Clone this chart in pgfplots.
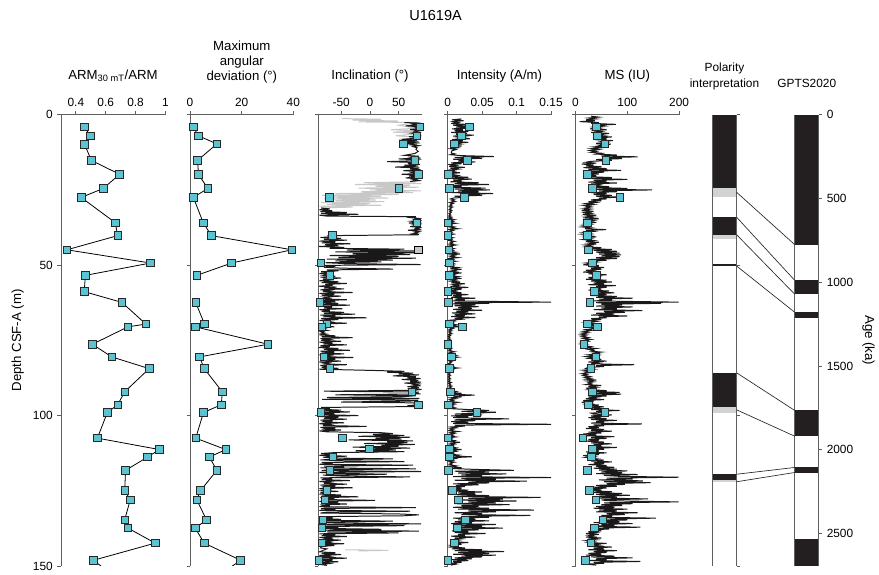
\documentclass[border=0pt]{standalone}
\usepackage{fontspec}
\setmainfont{Liberation Sans}
\usepackage{pgfplots}
\pgfplotsset{compat=1.18}
\definecolor{mk}{RGB}{91,196,210}
\definecolor{mkedge}{RGB}{40,40,40}
\definecolor{dat}{RGB}{26,24,25}
\definecolor{lgray}{RGB}{200,200,200}
\definecolor{pblack}{RGB}{35,31,32}
\definecolor{pgray}{RGB}{208,210,211}
\definecolor{axc}{RGB}{95,95,95}
\newcommand\hdr{\fontsize{10}{12}\selectfont}
\pgfplotsset{
 panel/.style={
   scale only axis, anchor=north west, height=341.5pt,
   y dir=reverse, ymin=0, ymax=150,
   axis x line*=top, axis y line*=left,
   tick align=outside, major tick length=2.6pt,
   axis line style={draw=axc, line width=0.6pt},
   every tick/.style={draw=axc, line width=0.6pt},
   ytick={0,50,100,150}, yticklabels={},
   tick label style={font=\fontsize{9}{10}\selectfont},
   /pgf/number format/assume math mode=true,
   unbounded coords=jump,
 },
 sq/.style={only marks, mark=square*, mark size=2.85pt, mark options={fill=mk, draw=mkedge, line width=0.6pt}},
 sqline/.style={mark=square*, mark size=2.85pt, mark options={fill=mk, draw=mkedge, line width=0.6pt, solid}, draw=black, line width=0.6pt},
 dline/.style={no marks, draw=dat, line width=0.75pt, sharp plot},
}
\begin{document}
\begin{tikzpicture}
\path (0,0) rectangle (659.25pt,-430.5pt);
\node[anchor=base, font=\fontsize{11}{13}\selectfont] at (329.6pt,-15.75pt) {U1619A};
\node[anchor=base, font=\hdr] at (85.5pt,-60pt) {ARM\textsubscript{30 mT}/ARM};
\node[anchor=base, font=\hdr] at (183pt,-38.25pt) {Maximum};
\node[anchor=base, font=\hdr] at (183pt,-49.5pt) {angular};
\node[anchor=base, font=\hdr] at (183pt,-60.75pt) {deviation (°)};
\node[anchor=base, font=\hdr] at (280pt,-60pt) {Inclination (°)};
\node[anchor=base, font=\hdr] at (378pt,-60pt) {Intensity (A/m)};
\node[anchor=base, font=\hdr] at (474.75pt,-60pt) {MS (IU)};
\node[anchor=base, font=\fontsize{9}{11}\selectfont] at (548.25pt,-54pt) {Polarity};
\node[anchor=base, font=\fontsize{9}{11}\selectfont] at (548.25pt,-66pt) {interpretation};
\node[anchor=base, font=\fontsize{9}{11}\selectfont] at (610.5pt,-66pt) {GPTS2020};

% ARM
\begin{axis}[panel, at={(46.1pt,-86.8pt)}, width=79.1pt, xmin=0.3, xmax=1,
  xtick={0.4,0.6,0.8,1}, xticklabels={0.4,0.6,0.8,1},
  yticklabels={0,50,100,150}, ylabel={Depth CSF-A (m)}, ylabel style={font=\hdr}]
\addplot[no marks, black, line width=0.6pt] coordinates {(0.518,148.1)(0.62,152)};
\addplot[sqline] coordinates {
(0.458,4.07)(0.496,7.0)(0.458,9.8)(0.504,15.2)(0.693,19.8)(0.584,24.5)(0.436,27.5)(0.664,35.9)
(0.680,40.2)(0.340,44.9)(0.900,49.3)(0.464,53.4)(0.456,58.8)(0.709,62.4)(0.869,69.6)(0.749,70.5)
(0.511,76.3)(0.640,80.5)(0.891,84.4)(0.727,92.1)(0.680,96.4)(0.611,99.0)(0.544,107.5)(0.960,111.3)
(0.880,113.8)(0.733,118.2)(0.727,124.9)(0.764,128.0)(0.727,134.7)(0.749,137.4)(0.931,142.4)(0.518,148.1)};
\end{axis}

% MAD
\begin{axis}[panel, at={(143.8pt,-86.8pt)}, width=78.2pt, xmin=0, xmax=40,
  xtick={0,20,40}, xticklabels={0,20,40}]
\addplot[no marks, black, line width=0.6pt] coordinates {(19.6,148.1)(13,152)};
\addplot[sqline] coordinates {
(1.3,4.07)(3.2,7.0)(10.4,9.7)(2.9,15.2)(3.3,19.9)(6.9,24.5)(1.3,27.5)(5.1,35.9)(8.3,40.2)
(39.4,44.9)(16.1,49.3)(2.6,53.4)(nan,58)(2.2,62.4)(5.6,69.6)(2.0,70.5)(30.2,76.3)(3.7,80.5)(5.5,84.4)
(12.5,92.1)(12.1,96.4)(5.2,99.0)(2.2,107.5)(13.8,111.3)(7.5,113.8)(10.4,118.2)(4.1,124.9)
(2.6,128.0)(6.4,134.7)(2.0,137.4)(5.5,142.4)(19.6,148.1)};
\end{axis}

% Inclination
\begin{axis}[panel, at={(240.8pt,-86.8pt)}, width=78.3pt, xmin=-90, xmax=90,
  xtick={-50,0,50}, xticklabels={-50,0,50}]
\addplot[dline, draw=lgray] coordinates {
(-49,1.3)(20,1.5)(-30,1.8)(49,2.1)(-20,2.4)(85,2.6)(50,3.5)(80,4.5)(37,5.0)(89,5.4)(40,5.8)(85,6.3)(45,7.0)(88,7.6)(50,8.2)(80,8.8)};
\addplot[dline, draw=lgray] coordinates {
(80,22.3)(-10,22.6)(89,22.9)(-26,23.2)(70,23.5)(10,23.8)(85,24.1)(-20,24.4)(60,24.7)(0,25.0)(89,25.3)(-15,25.6)(75,25.9)(-60,26.2)(50,26.5)(-83,26.8)(20,27.1)(-70,27.4)(32,27.7)(-80,28.0)(10,28.3)(-60,28.6)(25,28.9)(-85,29.2)(0,29.5)(-75,29.8)(20,30.1)(-88,30.4)(-30,30.7)(-85,31.0)};
\addplot[dline, draw=lgray] coordinates {(-43,144.6)(32,144.8)(-20,145.0)};
\addplot[dline] coordinates {
(60,2.6)(88,2.8)(75,3.1)(85,3.4)(62,3.7)(86,4.0)(80,4.3)(89,4.6)(70,4.9)(84,5.2)(78,5.5)(86,5.8)(72,6.1)(83,6.4)(79,6.7)(87,7.0)(68,7.3)(84,7.6)(76,7.9)(55,8.2)(82,8.5)(64,8.8)(86,9.1)(58,9.4)(80,9.7)(70,10.0)(85,10.3)(75,10.6)(82,11.0)
(80,11.5)(84,12.2)(78,12.9)
(60,13.5)(85,13.8)(72,14.1)(88,14.4)(50,14.7)(84,15.0)(76,15.3)(30,15.6)(82,15.9)(66,16.2)(87,16.5)(60,16.8)(84,17.1)(44,17.4)(86,17.7)(70,18.0)(88,18.3)(58,18.6)(84,18.9)(74,19.2)(89,19.5)(55,19.8)(85,20.1)(68,20.4)(87,20.7)(62,21.0)(83,21.3)(75,21.6)(86,21.9)(70,22.2)
(nan,26)
(-85,31.0)(-70,31.3)(-88,31.6)(-66,31.9)(-86,32.2)(-40,32.5)(-85,32.8)(-20,33.1)(-88,33.4)(-75,33.7)(80,33.9)(70,34.2)(86,34.5)(78,34.8)(89,35.1)(72,35.4)(85,35.7)(68,36.0)(88,36.3)(76,36.6)(84,36.9)(70,37.2)(89,37.5)(80,37.8)(86,38.1)(66,38.4)(88,38.7)(78,39.0)(84,39.3)(74,39.6)(85,39.9)(-74,40.2)(-60,40.5)(-86,40.8)(-50,41.1)(-80,41.4)(-40,41.7)(-88,42.0)(-60,42.3)(-84,42.6)(-34,42.9)(-78,43.2)(-55,43.5)(-89,43.8)(-45,44.1)(-70,44.4)(60,44.7)(-40,45.0)(85,45.3)(-60,45.6)(89,45.9)(-30,46.2)(70,46.5)(-70,46.8)(50,47.1)(-55,47.4)(80,47.7)(-75,48.0)(40,48.3)(-60,48.6)(20,48.9)(-77,49.2)(-40,49.5)(88,49.8)(-85,50.1)(-60,50.4)(-80,50.7)(-50,51.0)(40,51.3)(-75,51.6)(-55,51.9)(-85,52.2)(-65,52.5)(-88,52.8)(-70,53.1)
(-80,53.4)(-60,53.7)(-86,54.0)(-50,54.3)(-82,54.6)(-70,54.9)(-88,55.2)(-55,55.5)(-84,55.8)(-40,56.1)(-78,56.4)(-65,56.7)(-89,57.0)(-58,57.3)(-80,57.6)(-45,57.9)(-86,58.2)(-70,58.5)(-82,58.8)(-30,59.1)(-88,59.4)(-62,59.7)(-84,60.0)(-50,60.3)(-80,60.6)(-72,60.9)(-88,61.2)(-40,61.5)(-86,61.8)(-60,62.1)(-89,62.4)(-55,62.7)(-82,63.0)(-35,63.3)(-85,63.6)(-66,63.9)(-80,64.2)(-48,64.5)(-88,64.8)(-70,65.1)(-84,65.4)(-45,65.7)(-80,66.0)(-26,66.3)(-86,66.6)(-60,66.9)(-82,67.2)(-6,67.5)(-85,67.8)(-55,68.1)(-88,68.4)(-70,68.7)(-80,69.0)(-40,69.3)(-86,69.6)(-75,69.9)(-84,70.2)(-62,70.5)(-88,70.8)(-78,71.1)(-84,71.4)(-74,71.7)(-86,72.0)(-80,72.3)(-85,72.6)(-76,72.9)(-88,73.2)(-60,73.5)(-84,73.8)(-30,74.1)(-86,74.4)(-70,74.7)
(-85,75.0)(-50,75.3)(-88,75.6)(-65,75.9)(-82,76.2)(-40,76.5)(-86,76.8)(-70,77.1)(-89,77.4)(-55,77.7)(-80,78.0)(-35,78.3)(-86,78.6)(-62,78.9)(-84,79.2)(-45,79.5)(-88,79.8)(-70,80.1)(-82,80.4)(-29,80.7)(-86,81.0)(-60,81.3)(-84,81.6)(-50,81.9)(-88,82.2)(-72,82.5)(-80,82.8)(-40,83.1)(-86,83.4)(-66,83.7)(-84,84.0)(-55,84.3)(-88,84.6)
(5,85.0)(60,85.3)(30,85.6)(75,85.9)(50,86.2)(85,86.5)(40,86.8)(80,87.1)(65,87.4)(88,87.7)(55,88.0)(84,88.3)(70,88.6)(89,88.9)(60,89.2)(86,89.5)(76,89.8)(88,90.1)(65,90.4)(85,90.7)(72,91.0)(89,91.3)(78,91.6)(-80,91.9)(85,92.2)(70,92.5)(88,92.8)(-60,93.1)(80,93.4)(60,93.7)(-75,94.0)(86,94.3)(-83,94.6)(84,94.9)(70,95.2)(-50,95.5)(88,95.8)(80,96.1)(86,96.4)(65,96.7)(84,97.0)(-85,97.3)
(-70,97.6)(-88,97.9)(-50,98.2)(-82,98.5)(-35,98.8)(-86,99.1)(-62,99.4)(-84,99.7)(-20,100.0)(-88,100.3)(-55,100.6)(-80,100.9)(-40,101.2)(-86,101.5)(-65,101.8)(-84,102.1)(-45,102.4)(-88,102.7)(-70,103.0)(-82,103.3)(-6,103.6)(-86,103.9)(-60,104.2)(-84,104.5)(-50,104.8)(-88,105.1)(-75,105.4)
(20,105.7)(40,106.0)(5,106.3)(60,106.6)(-20,106.9)(70,107.2)(10,107.5)(55,107.8)(-37,108.1)(75,108.4)(30,108.7)(65,109.0)(-10,109.3)(78,109.6)(20,109.9)(50,110.2)(-30,110.5)(70,110.8)(0,111.1)(45,111.4)(-25,111.7)(60,112.0)(-60,112.3)
(-85,112.6)(-60,112.9)(-88,113.2)(-40,113.5)(-82,113.8)(-70,114.1)(40,114.4)(-86,114.7)(-55,115.0)(60,115.3)(-84,115.6)(-65,115.9)(-88,116.2)(75,116.5)(-80,116.8)(-45,117.1)(-86,117.4)(80,117.7)(-72,118.0)(-84,118.3)(89,118.6)(-88,118.9)(-60,119.2)(30,119.5)(-82,119.8)(-50,120.1)(70,120.4)(-86,120.7)(-66,121.0)(-84,121.3)(-35,121.6)(-88,121.9)(-70,122.2)(-80,122.5)(-40,122.8)(-86,123.1)(-60,123.4)(-84,123.7)(-30,124.0)(-88,124.3)(-72,124.6)(-82,124.9)(-55,125.2)(-86,125.5)
(-75,125.8)(-88,126.1)(-50,126.4)(-84,126.7)(-20,127.0)(-86,127.3)(-62,127.6)(-82,127.9)(9,128.2)(-88,128.5)(-55,128.8)(-84,129.1)(-40,129.4)(-86,129.7)(-70,130.0)(-88,130.3)(80,130.6)(-85,130.9)
(-60,131.2)(-88,131.5)(70,131.8)(-75,132.1)(-86,132.4)(50,132.7)(85,133.0)(60,133.3)(-82,133.6)(-65,133.9)(-88,134.2)(-50,134.5)(-84,134.8)(40,135.1)(-86,135.4)(-70,135.7)(89,136.0)(-80,136.3)(60,136.6)(-88,136.9)(-55,137.2)(-84,137.5)(20,137.8)(-86,138.1)(85,138.4)(-75,138.7)(50,139.0)(-88,139.3)(-60,139.6)
(-84,139.9)(-40,140.2)(-88,140.5)(-65,140.8)(-82,141.1)(-50,141.4)(-86,141.7)(-70,142.0)(-84,142.3)(-45,142.6)(-88,142.9)(-62,143.2)(-84,143.5)(-86,144.0)(-75,144.3)
(-88,145.3)(-60,145.6)(-84,145.9)(-50,146.2)(-88,146.5)(-70,146.8)(-82,147.1)(-40,147.4)(-86,147.7)(-65,148.0)(-88,148.3)(-55,148.6)(-84,148.9)(-70,149.2)(-86,149.5)(-75,149.8)};
\addplot[sq] coordinates {
(86.8,4.07)(81.6,7.0)(58.6,9.7)(78.2,15.2)(83.9,19.8)(50.6,24.5)(-70.1,27.5)(81.6,35.9)(-65.5,40.2)
(-85.6,49.3)(-69.5,53.4)(-87.4,62.4)(-74.7,69.6)(-83.9,70.5)(-79.9,80.5)(-69.5,84.4)(73.0,92.1)(83.9,96.4)
(-85.6,99.0)(-48.3,107.5)(-1.1,111.1)(-64.4,113.8)(-69.5,118.2)(-74.7,124.9)(-78.2,128.0)(-81.6,134.7)
(-83.9,137.4)(-83.9,142.4)(-89.1,148.1)};
\addplot[sq, mark options={fill=lgray}] coordinates {(83.9,44.9)};
\end{axis}

% Intensity
\begin{axis}[panel, at={(338.8pt,-86.8pt)}, width=78.2pt, xmin=0, xmax=0.15,
  xtick={0,0.05,0.1,0.15}, xticklabels={0,0.05,0.1,0.15}]
\addplot[dline] coordinates {
(0.02,1.4)(0.006,1.7)(0.023,2.0)(0.008,2.3)(0.015,2.6)(0.005,2.9)
(0.025,3.2)(0.008,3.5)(0.03,3.8)(0.012,4.1)(0.035,4.4)(0.006,4.7)(0.022,5.0)(0.01,5.3)(0.03,5.6)(0.005,5.9)(0.028,6.2)(0.012,6.5)(0.038,6.8)(0.008,7.1)(0.025,7.4)(0.015,7.7)(0.032,8.0)(0.006,8.3)(0.022,8.6)(0.01,8.9)(0.03,9.2)(0.008,9.5)(0.018,9.8)(0.005,10.1)(0.02,10.4)(0.008,10.7)(0.015,11.0)(0.004,11.3)(0.012,11.6)(0.006,12.0)
(0.005,12.7)(0.01,13.0)(0.004,13.3)
(0.02,13.6)(0.067,13.9)(0.01,14.2)(0.05,14.5)(0.008,14.8)(0.035,15.1)(0.015,15.4)(0.04,15.7)
(0.005,16.0)(0.02,16.3)(0.003,16.6)(0.012,16.9)(0.002,17.2)(0.025,17.5)(0.004,17.8)(0.015,18.1)(0.002,18.4)(0.01,18.7)(0.004,19.0)(0.018,19.3)(0.002,19.6)(0.008,19.9)(0.015,20.2)(0.003,20.5)(0.03,20.8)(0.005,21.1)(0.035,21.4)(0.008,21.7)(0.02,22.0)(0.004,22.3)(0.045,22.6)(0.01,22.9)(0.06,23.2)
(0.005,23.5)(0.02,23.8)(0.003,24.1)(0.055,24.4)(0.01,24.7)(0.061,25.0)(0.015,25.3)(0.045,25.6)(0.006,25.9)(0.066,26.2)(0.02,26.5)(0.05,26.8)(0.01,27.1)(0.03,27.4)(0.008,27.7)
(0.004,28.0)(0.01,28.3)(0.006,28.6)(0.011,28.9)(0.003,29.2)(0.008,29.5)(0.004,29.8)(0.006,30.1)(0.002,30.4)(0.007,30.7)(0.003,31.0)(0.005,31.3)(0.002,31.6)(0.006,31.9)(0.003,32.2)(0.005,32.5)(0.002,32.8)(0.004,33.1)(0.002,33.4)(0.005,33.7)(0.001,34.0)
(0.006,34.3)(0.002,34.6)(0.01,34.9)(0.003,35.2)(0.008,35.5)(0.001,35.8)(0.012,36.1)(0.003,36.4)(0.006,36.7)(0.002,37.0)(0.01,37.3)(0.004,37.6)(0.015,37.9)(0.002,38.2)(0.008,38.5)(0.003,38.8)(0.006,39.1)(0.002,39.4)(0.009,39.7)(0.003,40.0)(0.005,40.3)(0.001,40.6)(0.008,40.9)(0.003,41.2)(0.006,41.5)(0.002,41.8)(0.01,42.1)(0.004,42.4)(0.007,42.7)(0.002,43.0)(0.012,43.3)(0.003,43.6)(0.006,43.9)(0.001,44.2)(0.009,44.5)(0.003,44.8)(0.008,45.1)(0.002,45.4)(0.012,45.7)(0.004,46.0)(0.018,46.3)(0.003,46.6)(0.01,46.9)(0.004,47.2)(0.015,47.5)(0.002,47.8)(0.008,48.1)(0.003,48.4)(0.012,48.7)(0.002,49.0)(0.006,49.3)(0.01,49.6)(0.003,49.9)(0.008,50.2)(0.002,50.5)(0.015,50.8)(0.004,51.1)(0.02,51.4)(0.006,51.7)(0.012,52.0)(0.003,52.3)(0.02,52.6)(0.005,52.9)(0.01,53.2)(0.003,53.5)(0.015,53.8)(0.004,54.1)(0.02,54.4)(0.006,54.7)(0.012,55.0)(0.003,55.3)(0.018,55.6)(0.005,55.9)(0.025,56.2)(0.008,56.5)(0.015,56.8)(0.004,57.1)(0.03,57.4)(0.006,57.7)(0.02,58.0)(0.003,58.3)(0.012,58.6)(0.005,58.9)(0.02,59.2)(0.004,59.5)(0.03,59.8)(0.008,60.1)(0.02,60.4)(0.005,60.7)(0.04,61.0)(0.01,61.3)(0.025,61.6)(0.006,61.9)
(0.15,62.3)(0.01,62.5)(0.06,62.7)(0.008,62.9)
(0.04,63.2)(0.01,63.5)(0.045,63.8)(0.015,64.1)(0.035,64.4)(0.008,64.7)(0.05,65.0)(0.012,65.3)(0.03,65.6)(0.006,65.9)(0.04,66.2)(0.01,66.5)(0.025,66.8)(0.005,67.1)(0.04,67.4)(0.01,67.7)(0.02,68.0)(0.004,68.3)
(0.01,68.6)(0.003,68.9)(0.008,69.2)(0.002,69.5)(0.012,69.8)(0.004,70.1)(0.02,70.4)(0.003,70.7)(0.008,71.0)(0.002,71.3)(0.006,71.6)(0.001,71.9)(0.005,72.2)(0.002,72.5)(0.006,72.8)(0.001,73.1)(0.004,73.4)(0.001,73.7)(0.003,74.0)(0.001,74.3)(0.004,74.6)(0.001,74.9)(0.003,75.2)(0.001,75.5)(0.002,75.8)(0.001,76.1)(0.003,76.4)(0.001,76.7)(0.004,77.0)(0.002,77.3)(0.006,77.6)(0.002,77.9)(0.005,78.2)(0.001,78.5)(0.01,78.8)(0.003,79.1)(0.007,79.4)(0.002,79.7)(0.012,80.0)(0.004,80.3)(0.015,80.6)(0.005,80.9)(0.01,81.2)(0.002,81.5)(0.008,81.8)(0.003,82.1)(0.005,82.4)(0.001,82.7)(0.004,83.0)(0.002,83.3)(0.008,83.6)(0.003,83.9)(0.015,84.2)(0.004,84.5)(0.008,84.8)(0.002,85.1)(0.005,85.4)(0.001,85.7)(0.003,86.0)(0.001,86.3)(0.004,86.6)(0.001,86.9)(0.003,87.2)(0.001,87.5)(0.004,87.8)(0.001,88.1)(0.003,88.4)(0.001,88.7)(0.005,89.0)(0.001,89.3)(0.004,89.6)(0.002,89.9)(0.006,90.2)(0.002,90.5)(0.005,90.8)(0.002,91.1)(0.008,91.4)(0.003,91.7)(0.012,92.0)(0.004,92.3)(0.02,92.6)(0.005,92.9)(0.039,93.2)(0.008,93.5)(0.02,93.8)(0.004,94.1)(0.012,94.4)(0.003,94.7)(0.008,95.0)(0.002,95.3)(0.015,95.6)(0.003,95.9)(0.01,96.2)(0.002,96.5)(0.008,96.8)(0.003,97.1)
(0.01,97.4)(0.004,97.7)(0.03,98.0)(0.06,98.3)(0.02,98.6)(0.07,98.9)(0.04,99.2)(0.01,99.5)(0.05,99.8)(0.005,100.1)(0.03,100.4)(0.008,100.7)(0.089,101.1)(0.01,101.4)(0.04,101.7)(0.005,102.0)(0.03,102.3)(0.008,102.6)(0.15,102.9)(0.01,103.2)(0.025,103.5)(0.004,103.8)
(0.012,104.1)(0.003,104.4)(0.008,104.7)(0.002,105.0)(0.015,105.3)(0.004,105.6)(0.01,105.9)(0.002,106.2)(0.008,106.5)(0.003,106.8)(0.012,107.1)(0.002,107.4)(0.006,107.7)(0.002,108.0)(0.01,108.3)(0.003,108.6)(0.018,108.9)(0.004,109.2)(0.01,109.5)(0.002,109.8)(0.008,110.1)(0.003,110.4)(0.012,110.7)(0.004,111.0)(0.02,111.3)(0.005,111.6)(0.012,111.9)(0.003,112.2)(0.008,112.5)(0.002,112.8)(0.015,113.1)(0.004,113.4)(0.035,113.7)(0.006,114.0)(0.012,114.3)(0.003,114.6)(0.008,114.9)(0.002,115.2)(0.01,115.5)(0.003,115.8)(0.006,116.1)(0.002,116.4)(0.012,116.7)(0.004,117.0)(0.02,117.3)(0.005,117.6)
(0.04,117.9)(0.096,118.2)(0.01,118.5)(0.06,118.8)(0.015,119.1)(0.085,119.4)(0.02,119.7)(0.05,120.0)(0.008,120.3)(0.15,120.6)(0.02,120.9)(0.07,121.2)(0.01,121.5)(0.115,121.8)(0.03,122.1)(0.06,122.4)(0.008,122.7)(0.045,123.0)(0.012,123.3)(0.025,123.6)(0.005,123.9)(0.02,124.2)
(0.006,124.5)(0.03,124.8)(0.008,125.1)(0.05,125.4)(0.015,125.7)(0.04,126.0)(0.01,126.3)(0.06,126.6)(0.02,126.9)(0.135,127.2)(0.03,127.5)(0.08,127.8)(0.015,128.1)(0.1,128.4)(0.03,128.7)(0.07,129.0)(0.01,129.3)(0.09,129.6)(0.02,129.9)(0.045,130.2)(0.008,130.5)(0.06,130.8)(0.015,131.1)(0.125,131.4)(0.03,131.7)(0.07,132.0)(0.01,132.3)(0.05,132.6)(0.02,132.9)(0.12,133.2)(0.03,133.5)(0.06,133.8)(0.008,134.1)(0.04,134.4)(0.015,134.7)(0.06,135.0)(0.01,135.3)(0.035,135.6)(0.005,135.9)(0.07,136.2)(0.02,136.5)(0.05,136.8)(0.01,137.1)(0.08,137.4)(0.02,137.7)(0.045,138.0)(0.006,138.3)(0.03,138.6)(0.01,138.9)(0.055,139.2)(0.015,139.5)(0.025,139.8)(0.005,140.1)(0.04,140.4)(0.01,140.7)(0.02,141.0)(0.004,141.3)(0.015,141.6)(0.005,141.9)(0.03,142.2)(0.008,142.5)(0.02,142.8)(0.004,143.1)(0.012,143.4)(0.003,143.7)(0.025,144.0)(0.006,144.3)(0.05,144.6)(0.01,144.9)(0.082,145.2)(0.015,145.5)(0.06,145.8)(0.008,146.1)(0.07,146.4)(0.02,146.7)(0.05,147.0)(0.01,147.3)(0.035,147.6)(0.005,147.9)(0.03,148.2)(0.008,148.5)(0.02,148.8)(0.004,149.1)(0.012,149.4)(0.005,149.7)};
\addplot[sq] coordinates {
(0.0316,4.07)(0.0201,7.0)(0.0096,9.7)(0.0288,15.2)(0.001,19.9)(0.0024,24.5)(0.0244,27.5)(0.0,35.9)
(0.0,40.2)(0.0014,44.9)(0.0024,49.3)(0.0024,53.4)(0.0,58.8)(0.001,62.4)(0.0024,69.6)(0.0216,70.5)
(0.0,76.3)(0.0053,80.5)(0.0024,84.4)(0.0038,92.1)(0.001,96.4)(0.0422,99.0)(0.0,107.5)(0.0024,111.1)
(0.0024,113.8)(0.001,118.2)(0.0067,124.9)(0.0153,128.0)(0.0259,134.7)(0.0139,137.4)(0.0096,142.4)(0.0,148.1)};
\end{axis}

% MS
\begin{axis}[panel, at={(435.5pt,-86.8pt)}, width=78.45pt, xmin=0, xmax=200,
  xtick={0,100,200}, xticklabels={0,100,200}]
\addplot[dline] coordinates {
(30,0.5)(45,0.8)(25,1.1)(40,1.4)(20,1.7)(38,2.0)(8,2.3)(45,2.6)(30,2.9)(78,3.2)(40,3.5)(55,3.8)(35,4.1)(48,4.4)(28,4.7)(60,5.0)(38,5.3)(50,5.6)(30,5.9)(65,6.2)(42,6.5)(55,6.8)(35,7.1)(70,7.4)(45,7.7)(60,8.0)(38,8.3)(72,8.6)(50,8.9)(60,9.2)(40,9.5)(68,9.8)(45,10.1)(55,10.4)(35,10.7)(50,11.0)(30,11.3)(45,11.6)(28,11.9)(40,12.2)
(30,12.5)(50,12.8)(40,13.1)(80,13.4)(50,13.7)(120,14.0)(55,14.3)(90,14.6)(40,14.9)(70,15.2)(30,15.5)
(20,15.8)(40,16.1)(12,16.4)(35,16.7)(20,17.0)(50,17.3)(15,17.6)(60,17.9)(25,18.2)(88,18.5)(30,18.8)(55,19.1)(20,19.4)(45,19.7)(15,20.0)(40,20.3)(25,20.6)(70,20.9)(30,21.2)(100,21.5)(35,21.8)(60,22.1)(25,22.4)(80,22.7)(30,23.0)
(45,23.3)(25,23.6)(65,23.9)(35,24.2)(100,24.5)(40,24.8)(148,25.0)(45,25.3)(80,25.6)(30,25.9)(60,26.2)(35,26.5)(70,26.8)(40,27.1)(85,27.4)(45,27.7)(60,28.0)(30,28.3)(50,28.6)(25,28.9)(40,29.2)(20,29.5)(35,29.8)(15,30.1)(30,30.4)(20,30.7)
(30,31.0)(15,31.3)(28,31.6)(12,31.9)(35,32.2)(18,32.5)(30,32.8)(14,33.1)(40,33.4)(20,33.7)(35,34.0)(15,34.3)(45,34.6)(22,34.9)(35,35.2)(18,35.5)(40,35.8)(20,36.1)(30,36.4)(14,36.7)(25,37.0)(12,37.3)(30,37.6)(18,37.9)(59,38.2)(20,38.5)(35,38.8)(15,39.1)(28,39.4)(12,39.7)(30,40.0)(18,40.3)(40,40.6)(20,40.9)(30,41.2)(15,41.5)(35,41.8)(20,42.1)(45,42.4)(25,42.7)(40,43.0)(18,43.3)(30,43.6)(20,43.9)(50,44.2)(25,44.5)(70,44.8)(35,45.1)(80,45.4)(40,45.7)(85,46.0)(45,46.3)
(88,46.6)(50,46.9)(85,47.2)(40,47.5)(80,47.8)(30,48.1)(60,48.4)(25,48.7)(40,49.0)
(20,49.3)(35,49.6)(15,49.9)(45,50.2)(25,50.5)(55,50.8)(30,51.1)(50,51.4)(20,51.7)(40,52.0)(15,52.3)(45,52.6)(25,52.9)(60,53.2)(35,53.5)(50,53.8)(25,54.1)(45,54.4)(20,54.7)(60,55.0)(30,55.3)(70,55.6)(35,55.9)(55,56.2)(25,56.5)(78,56.8)(40,57.1)(60,57.4)(30,57.7)(50,58.0)(25,58.3)(65,58.6)(35,58.9)(75,59.2)(40,59.5)(60,59.8)(30,60.1)(80,60.4)(40,60.7)(110,61.0)(45,61.3)(70,61.6)(35,61.9)
(199,62.3)(40,62.5)(165,62.7)(50,63.0)
(90,63.3)(40,63.6)(110,63.9)(50,64.2)(80,64.5)(35,64.8)(129,65.1)(55,65.4)(95,65.7)(40,66.0)(75,66.3)(30,66.6)(100,66.9)(45,67.2)(60,67.5)(30,67.8)(50,68.1)
(25,68.4)(40,68.7)(20,69.0)(35,69.3)(15,69.6)(45,69.9)(25,70.2)(50,70.5)(30,70.8)(40,71.1)(20,71.4)(30,71.7)(15,72.0)(25,72.3)(12,72.6)(22,72.9)(10,73.2)(20,73.5)(12,73.8)(25,74.1)(15,74.4)(30,74.7)(18,75.0)(25,75.3)(12,75.6)(20,75.9)(10,76.2)(22,76.5)(15,76.8)(30,77.1)(20,77.4)(40,77.7)(25,78.0)(35,78.3)(30,78.6)(50,78.9)(35,79.2)(45,79.5)(25,79.8)(40,80.1)(20,80.4)(35,80.7)(25,81.0)(50,81.3)(30,81.6)(60,81.9)(25,82.2)(45,82.5)(30,82.8)(113,83.1)(40,83.4)(55,83.7)(25,84.0)
(20,84.3)(35,84.6)(15,84.9)(30,85.2)(18,85.5)(25,85.8)(12,86.1)(22,86.4)(15,86.7)(28,87.0)(18,87.3)(30,87.6)(20,87.9)(40,88.2)(22,88.5)(35,88.8)(25,89.1)(30,89.4)(20,89.7)(50,90.0)(25,90.3)(40,90.6)(20,90.9)(35,91.1)(25,91.4)(60,91.7)(30,92.0)(85,92.3)(40,92.6)(88,92.9)(35,93.2)(60,93.5)(25,93.8)(40,94.1)(20,94.4)(55,94.7)(15,95.0)(35,95.3)(12,95.6)(30,95.9)(20,96.2)(45,96.5)(25,96.8)(55,97.1)(30,97.4)(50,97.7)(30,98.0)(85,98.3)(40,98.6)(60,98.9)(30,99.2)
(35,99.5)(70,99.8)(30,100.1)(50,100.4)(25,100.7)(60,101.0)(30,101.3)(80,101.6)(40,101.9)(55,102.2)(30,102.5)(128,102.8)(35,103.1)(55,103.4)
(25,103.7)(45,104.0)(20,104.3)(55,104.6)(30,104.9)(70,105.2)(25,105.5)(50,105.8)(15,106.1)(40,106.4)(20,106.7)(75,107.0)(30,107.3)(60,107.6)(25,107.9)(45,108.2)(20,108.5)(55,108.8)(30,109.1)(70,109.4)(35,109.7)(50,110.0)(25,110.3)(80,110.6)(35,110.9)(55,111.2)(25,111.5)(45,111.8)(20,112.1)(60,112.4)(30,112.7)(45,113.0)(15,113.3)(35,113.6)(20,113.9)(40,114.2)(25,114.5)(55,114.8)(30,115.1)(70,115.4)(35,115.7)(55,116.0)(25,116.3)(60,116.6)(40,116.9)(75,117.2)(35,117.5)
(80,117.8)(45,118.1)(100,118.4)(50,118.7)(90,119.0)(40,119.3)(120,119.6)(55,119.9)(85,120.2)(199,120.5)(60,120.8)(110,121.1)(45,121.4)(130,121.7)(55,122.0)(145,122.3)(60,122.6)(95,122.9)(40,123.2)(80,123.5)(35,123.8)(60,124.1)
(25,124.4)(50,124.7)(30,125.0)(70,125.3)(35,125.6)(90,125.9)(40,126.2)(105,126.5)(45,126.8)(80,127.1)(40,127.4)(140,127.7)(50,128.0)(60,128.3)(199,128.7)(55,129.0)(110,129.3)(50,129.6)(90,129.9)(40,130.2)(75,130.5)(35,130.8)(100,131.1)(45,131.4)(80,131.7)(40,132.0)(120,132.3)(60,132.6)(95,132.9)(50,133.2)(70,133.5)(45,133.8)(155,134.1)(60,134.4)(100,134.7)(45,135.0)(85,135.3)(35,135.6)(110,135.9)(50,136.2)(75,136.5)(30,136.8)(125,137.1)(45,137.4)(65,137.7)(30,138.0)(50,138.3)(25,138.6)(40,138.9)(20,139.2)(45,139.5)(25,139.8)(35,140.1)(20,140.4)(50,140.7)(25,141.0)(40,141.3)(20,141.6)(35,141.9)(25,142.2)(60,142.5)(30,142.8)(45,143.1)(25,143.4)(70,143.7)(35,144.0)(55,144.3)(25,144.6)(80,144.9)(35,145.2)(60,145.5)(25,145.8)(50,146.1)(20,146.4)(75,146.7)(30,147.0)(110,147.3)(40,147.6)(60,147.9)(25,148.2)(125,148.5)(35,148.8)(55,149.1)(20,149.4)(40,149.7)};
\addplot[sq] coordinates {
(40.8,4.07)(42.7,7.0)(56.7,9.7)(58.6,15.2)(22.9,19.9)(33.1,24.5)(85.4,27.5)(22.9,35.9)(22.9,40.2)
(24.8,44.9)(33.1,49.3)(40.8,53.4)(36.9,58.8)(27.4,62.4)(22.9,69.6)(42.7,70.5)(16.6,76.3)(38.9,80.5)
(29.3,84.4)(33.1,92.1)(24.8,96.4)(56.7,99.0)(14.6,107.5)(33.1,111.1)(30.6,113.8)(22.9,118.2)
(26.8,124.9)(38.9,128.0)(52.9,134.7)(36.9,137.4)(29.3,142.4)(19.1,148.1)};
\end{axis}

% Polarity interpretation
\begin{axis}[scale only axis, anchor=north west, at={(539.25pt,-86.8pt)}, width=18.2pt, height=341.5pt,
  xmin=0, xmax=1, ymin=0, ymax=150, y dir=reverse, axis on top,
  axis x line=none, axis y line=box, ytick={0,50,100,150}, yticklabels={}, ytick pos=right,
  tick align=outside, major tick length=2.6pt,
  axis line style={draw=axc, line width=0.6pt}, every tick/.style={draw=axc, line width=0.6pt}]
\addplot[fill=pblack, draw=none] coordinates {(0,0)(1,0)(1,24.5)(0,24.5)};
\addplot[fill=pgray, draw=none] coordinates {(0,24.5)(1,24.5)(1,27.5)(0,27.5)};
\addplot[fill=pblack, draw=none] coordinates {(0,34.1)(1,34.1)(1,39.9)(0,39.9)};
\addplot[fill=pgray, draw=none] coordinates {(0,39.9)(1,39.9)(1,41.2)(0,41.2)};
\addplot[fill=pblack, draw=none] coordinates {(0,49.5)(1,49.5)(1,50.4)(0,50.4)};
\addplot[fill=pblack, draw=none] coordinates {(0,85.8)(1,85.8)(1,97.0)(0,97.0)};
\addplot[fill=pgray, draw=none] coordinates {(0,97.0)(1,97.0)(1,99.2)(0,99.2)};
\addplot[fill=pblack, draw=none] coordinates {(0,119.5)(1,119.5)(1,121.3)(0,121.3)};
\addplot[fill=pgray, draw=none] coordinates {(0,121.3)(1,121.3)(1,122.2)(0,122.2)};
\coordinate (p1) at (axis cs:1,25.8);
\coordinate (p2) at (axis cs:1,34.1);
\coordinate (p3) at (axis cs:1,39.9);
\coordinate (p4) at (axis cs:1,50.3);
\coordinate (p5) at (axis cs:1,85.8);
\coordinate (p6) at (axis cs:1,98.1);
\coordinate (p7) at (axis cs:1,119.5);
\coordinate (p8) at (axis cs:1,122.0);
\end{axis}

% GPTS2020
\begin{axis}[scale only axis, anchor=north west, at={(601.3pt,-86.8pt)}, width=18.2pt, height=341.5pt,
  xmin=0, xmax=1, ymin=0, ymax=2694, y dir=reverse, axis on top,
  axis x line=none, axis y line=box, ytick={0,500,1000,1500,2000,2500},
  yticklabels={0,500,1000,1500,2000,2500}, ytick pos=right, yticklabel pos=right,
  tick align=outside, major tick length=2.6pt,
  axis line style={draw=axc, line width=0.6pt}, every tick/.style={draw=axc, line width=0.6pt},
  tick label style={font=\fontsize{9}{10}\selectfont},
  ylabel={Age (ka)}, ylabel near ticks, ylabel style={font=\hdr, rotate=180}]
\addplot[fill=pblack, draw=none] coordinates {(0,0)(1,0)(1,775)(0,775)};
\addplot[fill=pblack, draw=none] coordinates {(0,988)(1,988)(1,1071)(0,1071)};
\addplot[fill=pblack, draw=none] coordinates {(0,1179)(1,1179)(1,1213)(0,1213)};
\addplot[fill=pblack, draw=none] coordinates {(0,1765)(1,1765)(1,1919)(0,1919)};
\addplot[fill=pblack, draw=none] coordinates {(0,2106)(1,2106)(1,2136)(0,2136)};
\addplot[fill=pblack, draw=none] coordinates {(0,2530)(1,2530)(1,2694)(0,2694)};
\coordinate (g1) at (axis cs:0,775);
\coordinate (g2) at (axis cs:0,988);
\coordinate (g3) at (axis cs:0,1071);
\coordinate (g4) at (axis cs:0,1179);
\coordinate (g5) at (axis cs:0,1765);
\coordinate (g6) at (axis cs:0,1919);
\coordinate (g7) at (axis cs:0,2106);
\coordinate (g8) at (axis cs:0,2136);
\end{axis}
\foreach \i in {1,...,8} {\draw[line width=0.5pt, black!85] (p\i) -- (g\i);}
\end{tikzpicture}
\end{document}
